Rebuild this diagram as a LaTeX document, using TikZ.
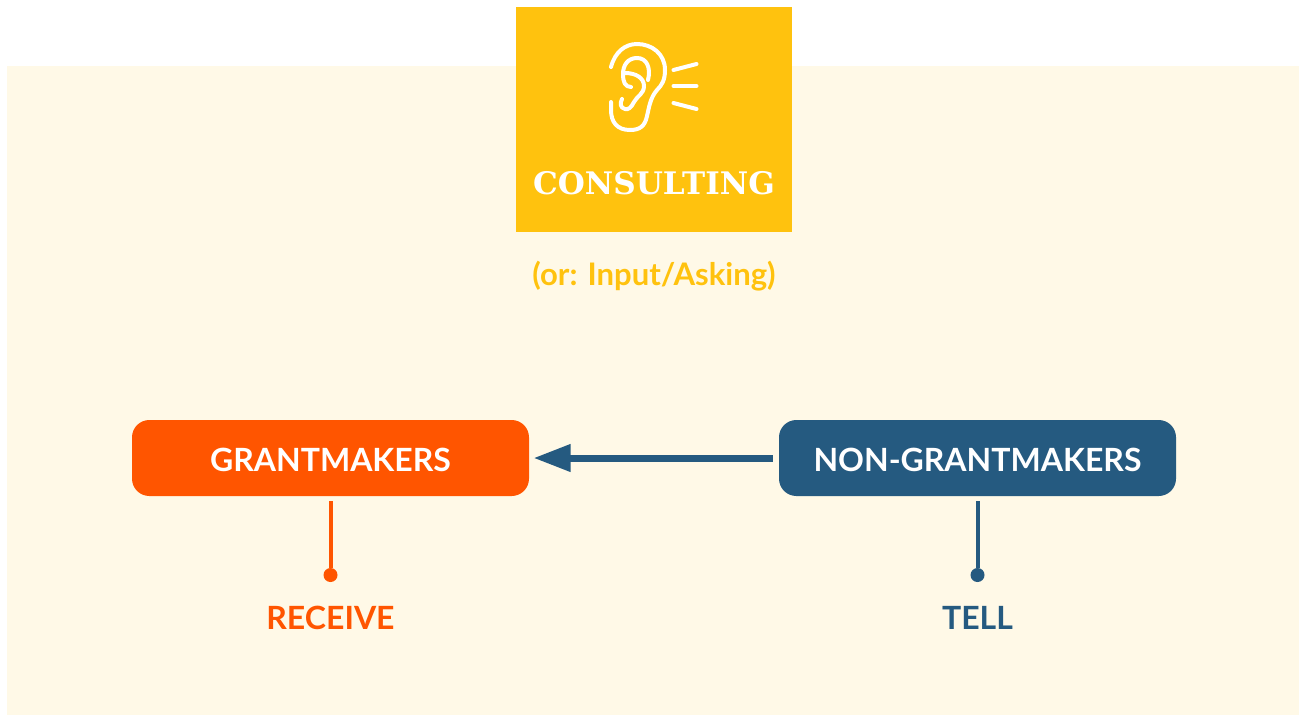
\documentclass[tikz,border=0pt]{standalone}
\usepackage{fontspec}
\setmainfont{Lato}
\newfontfamily\slabfont{DejaVu Serif}
\usepackage{tikz}
\usetikzlibrary{arrows.meta}
\definecolor{cream}{HTML}{FFF9E7}
\definecolor{amber}{HTML}{FFC20E}
\definecolor{flame}{HTML}{FF5500}
\definecolor{navy}{HTML}{255A80}
\tikzstyle{graph}=[x=0.75pt, y=-0.75pt, line cap=butt]
\tikzstyle{panel}=[rectangle, inner sep=0pt, anchor=north west, fill=cream]
\tikzstyle{badge}=[rectangle, inner sep=0pt, anchor=north west, fill=amber, minimum width=207pt, minimum height=168.75pt]
\tikzstyle{party}=[rectangle, rounded corners=13pt, inner sep=0pt, text=white, text height=20pt, font=\bfseries\fontsize{24pt}{24pt}\selectfont, minimum width=297.75pt, minimum height=57pt]
\tikzstyle{dot}=[circle, inner sep=0pt, minimum size=10.5pt]
\tikzstyle{role}=[font=\bfseries\fontsize{24pt}{24pt}\selectfont]
\tikzstyle{earline}=[draw=white, line width=3pt, line cap=round, line join=round]
\tikzstyle{edge}=[line width=5.25pt, -{Triangle[length=27.75pt, width=19.5pt]}, draw=navy, shorten >=3.2pt, shorten <=4.5pt]
\tikzstyle{stem}=[line width=3pt, shorten <=3.75pt]
\begin{document}
\begin{tikzpicture}[graph]
	\useasboundingbox (0,0) rectangle (1299,715);
	\draw (7,66) node[panel, minimum width=969pt, minimum height=486.75pt] (back) {};
	\draw (516,7) node[badge] (consulting) {};
	% ear
	\draw[earline] (611,67) .. controls (615,52) and (625,44) .. (637,44) .. controls (652,44) and (665,54) .. (665,70) .. controls (665,80) and (662,85) .. (657,90) .. controls (650,98) and (649,108) .. (647,116) .. controls (645,126) and (640,130) .. (630,130) .. controls (617,130) and (611,122) .. (611,110) -- (611,102);
	\draw[earline] (648,80) .. controls (651,68) and (647,58) .. (637,58) .. controls (628,58) and (623,65) .. (623,74) .. controls (623,82) and (625,87) .. (631,87);
	\draw[earline] (625,73) .. controls (636,73) and (644,78) .. (644,86) .. controls (644,94) and (637,96) .. (634,102) .. controls (631,108) and (628,110) .. (625,109) .. controls (620,108) and (620,103) .. (622,99);
	\draw[earline] (673.5,70) -- (696.5,64);
	\draw[earline] (673.5,86) -- (696.5,86);
	\draw[earline] (673.5,103) -- (696.5,109);
	\draw (654,183) node[text=white, font=\slabfont\bfseries\fontsize{23.3pt}{24pt}\selectfont] (title) {CONSULTING};
	\draw (654,276) node[text=amber, font=\bfseries\fontsize{23.3pt}{24pt}\selectfont] (subtitle) {(or: Input/Asking)};
	\draw (330.5,458) node[party, fill=flame] (grantmakers) {GRANTMAKERS};
	\draw (977.5,458) node[party, fill=navy] (others) {NON-GRANTMAKERS};
	\draw (330.5,575) node[dot, fill=flame] (receiveDot) {};
	\draw (977.5,575) node[dot, fill=navy] (tellDot) {};
	\draw (330.5,618) node[role, text=flame] (receive) {RECEIVE};
	\draw (977.5,618) node[role, text=navy] (tell) {TELL};
	\draw[edge] (others) -- (grantmakers);
	\draw[stem, draw=flame] (grantmakers) -- (receiveDot);
	\draw[stem, draw=navy] (others) -- (tellDot);
\end{tikzpicture}
\end{document}
